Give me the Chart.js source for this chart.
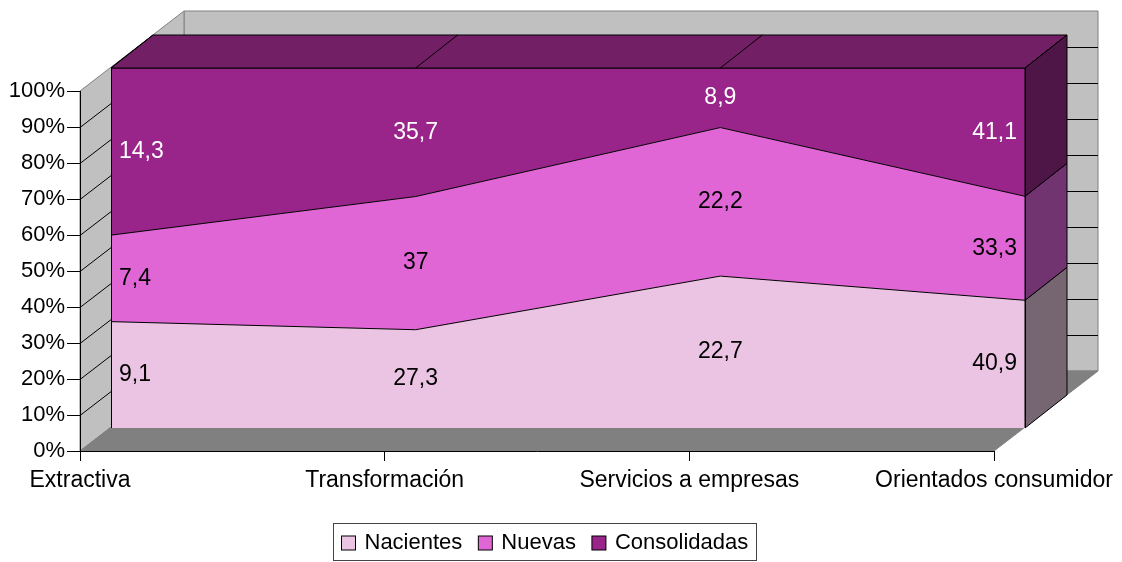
<!DOCTYPE html>
<html>
<head>
<meta charset="utf-8">
<script src="https://cdn.jsdelivr.net/npm/chart.js@4/dist/chart.umd.min.js"></script>
<style>
  html, body { margin: 0; padding: 0; background: #fff; }
</style>
</head>
<body>
<canvas id="chart" width="1122" height="562"></canvas>
<script>
const categories = ["Extractiva", "Transformación", "Servicios a empresas", "Orientados consumidor"];
const nacientes = [9.1, 27.3, 22.7, 40.9];
const nuevas = [7.4, 37, 22.2, 33.3];
const consolidadas = [14.3, 35.7, 8.9, 41.1];
const yTicks = [0, 10, 20, 30, 40, 50, 60, 70, 80, 90, 100];

// 100% stacked: each series as a share of its category total
const totals = categories.map((_, i) => nacientes[i] + nuevas[i] + consolidadas[i]);
const share = (arr) => arr.map((v, i) => (v / totals[i]) * 100);

// depth offsets of the 3d box: front face, back face of the area, back wall
const FRONT = { dx: 31, dy: -23 };
const BACK = { dx: 73, dy: -56 };
const WALL = { dx: 104, dy: -80 };

const FONT = '"Liberation Sans", Arial, sans-serif';
Chart.defaults.font.family = FONT;
Chart.defaults.font.size = 22;
Chart.defaults.color = "#000";

const sideColors = ["#766671", "#723470", "#4e1646"];
const labelColors = ["#000", "#000", "#fff"];

const poly = (ctx, pts, fill, stroke) => {
  ctx.beginPath();
  pts.forEach(([x, y], i) => (i ? ctx.lineTo(x, y) : ctx.moveTo(x, y)));
  ctx.closePath();
  if (fill) { ctx.fillStyle = fill; ctx.fill(); }
  if (stroke) { ctx.strokeStyle = stroke; ctx.lineWidth = 1; ctx.stroke(); }
};

const walls = {
  id: "walls",
  beforeDraw(chart) {
    const ctx = chart.ctx;
    const { left, right, top, bottom } = chart.chartArea;
    const ys = chart.scales.y;
    ctx.save();
    poly(ctx, [[left + WALL.dx, top + WALL.dy], [right + WALL.dx, top + WALL.dy],
      [right + WALL.dx, bottom + WALL.dy], [left + WALL.dx, bottom + WALL.dy]], "#c0c0c0", "#808080");
    poly(ctx, [[left, top], [left + WALL.dx, top + WALL.dy],
      [left + WALL.dx, bottom + WALL.dy], [left, bottom]], "#c0c0c0", "#808080");
    poly(ctx, [[left, bottom], [right, bottom],
      [right + WALL.dx, bottom + WALL.dy], [left + WALL.dx, bottom + WALL.dy]], "#808080", "#808080");
    ctx.strokeStyle = "#000";
    ctx.lineWidth = 1;
    yTicks.slice(1, -1).forEach((t) => {
      const y = Math.round(ys.getPixelForValue(t)) + 0.5;
      ctx.beginPath();
      ctx.moveTo(left, y);
      ctx.lineTo(left + WALL.dx, y + WALL.dy);
      ctx.lineTo(right + WALL.dx, y + WALL.dy);
      ctx.stroke();
    });
    ctx.restore();
  },
  // the areas sit on the front face of the box
  beforeDatasetsDraw(chart) {
    chart.ctx.save();
    chart.ctx.translate(FRONT.dx, FRONT.dy);
  },
  afterDatasetsDraw(chart) {
    const ctx = chart.ctx;
    ctx.restore();
    const xs = chart.scales.x, ys = chart.scales.y;
    const last = categories.length - 1;
    const y0 = ys.getPixelForValue(0), y100 = ys.getPixelForValue(100);
    const xl = xs.getPixelForValue(0), xr = xs.getPixelForValue(last);
    ctx.save();
    // top face
    poly(ctx, [[xl + FRONT.dx, y100 + FRONT.dy], [xr + FRONT.dx, y100 + FRONT.dy],
      [xr + BACK.dx, y100 + BACK.dy], [xl + BACK.dx, y100 + BACK.dy]], "#721f66", "#000");
    ctx.beginPath();
    categories.forEach((_, i) => {
      const x = xs.getPixelForValue(i);
      ctx.moveTo(x + FRONT.dx, y100 + FRONT.dy);
      ctx.lineTo(x + BACK.dx, y100 + BACK.dy);
    });
    ctx.stroke();
    // right side face, one slab per series
    let prev = y0;
    chart.data.datasets.forEach((ds, d) => {
      const yt = chart.getDatasetMeta(d).data[last].y;
      poly(ctx, [[xr + FRONT.dx, yt + FRONT.dy], [xr + BACK.dx, yt + BACK.dy],
        [xr + BACK.dx, prev + BACK.dy], [xr + FRONT.dx, prev + FRONT.dy]], sideColors[d], "#000");
      prev = yt;
    });
    // front face side edges
    ctx.beginPath();
    ctx.moveTo(xl + FRONT.dx + 0.5, y100 + FRONT.dy);
    ctx.lineTo(xl + FRONT.dx + 0.5, y0 + FRONT.dy);
    ctx.moveTo(xr + FRONT.dx + 0.5, y100 + FRONT.dy);
    ctx.lineTo(xr + FRONT.dx + 0.5, y0 + FRONT.dy);
    ctx.stroke();

    // value labels in the middle of each band
    ctx.font = "23px " + FONT;
    ctx.textBaseline = "middle";
    const raw = [nacientes, nuevas, consolidadas];
    categories.forEach((_, i) => {
      let below = y0;
      chart.data.datasets.forEach((ds, d) => {
        const pt = chart.getDatasetMeta(d).data[i];
        const x = pt.x + FRONT.dx;
        const y = (pt.y + below) / 2 + FRONT.dy;
        below = pt.y;
        ctx.fillStyle = labelColors[d];
        ctx.textAlign = i === 0 ? "left" : i === last ? "right" : "center";
        const tx = i === 0 ? x + 8 : i === last ? x - 8 : x;
        ctx.fillText(String(raw[d][i]).replace(".", ","), tx, y);
      });
    });
    ctx.restore();
  },
  // boxed legend under the plot
  afterDraw(chart) {
    const ctx = chart.ctx;
    ctx.save();
    ctx.font = "22px " + FONT;
    ctx.textBaseline = "middle";
    ctx.textAlign = "left";
    const sw = 14, gap = 9, space = 16, pad = 8;
    const items = chart.data.datasets.map((ds) => ({ ds, w: ctx.measureText(ds.label).width }));
    const inner = items.reduce((s, it) => s + sw + gap + it.w, 0) + space * (items.length - 1);
    const bw = Math.round(inner + pad * 2), bh = 37;
    const bx = Math.round(544 - bw / 2) + 0.5, by = 523.5;
    ctx.strokeStyle = "#444";
    ctx.lineWidth = 1;
    ctx.strokeRect(bx, by, bw, bh);
    let x = bx + pad;
    const cy = by + bh / 2 + 1;
    items.forEach((it) => {
      ctx.fillStyle = it.ds.backgroundColor;
      ctx.fillRect(x, cy - sw / 2, sw, sw);
      ctx.strokeStyle = "#000";
      ctx.strokeRect(x, cy - sw / 2, sw, sw);
      ctx.fillStyle = "#000";
      ctx.fillText(it.ds.label, x + sw + gap, cy);
      x += sw + gap + it.w + space;
    });
    ctx.restore();
  }
};

const series = [
  { label: "Nacientes", data: share(nacientes), backgroundColor: "#ebc4e3", fill: "origin" },
  { label: "Nuevas", data: share(nuevas), backgroundColor: "#e066d6", fill: "-1" },
  { label: "Consolidadas", data: share(consolidadas), backgroundColor: "#9a258a", fill: "-1" },
];

new Chart(document.getElementById("chart"), {
  type: "line",
  data: {
    labels: categories,
    datasets: series.map((s) => ({
      ...s,
      borderColor: "#000",
      borderWidth: 1,
      pointRadius: 0,
      tension: 0,
    })),
  },
  options: {
    responsive: false,
    animation: false,
    layout: { padding: { left: 0, right: 128, top: 91, bottom: 0 } },
    plugins: { legend: { display: false }, tooltip: { enabled: false } },
    scales: {
      x: {
        offset: false,
        grid: { drawOnChartArea: false, tickLength: 10, color: "#000" },
        border: { color: "#000" },
        ticks: { padding: 6, maxRotation: 0, autoSkip: false, font: { size: 23 } },
        afterFit: (s) => { s.height = 111; },
      },
      y: {
        stacked: true,
        min: 0,
        max: 100,
        grid: { drawOnChartArea: false, tickLength: 13, color: "#000" },
        border: { color: "#000" },
        ticks: { stepSize: 10, padding: 2, callback: (v) => v + "%" },
        afterFit: (s) => { s.width = 80; },
      },
    },
  },
  plugins: [walls],
});
</script>
</body>
</html>
